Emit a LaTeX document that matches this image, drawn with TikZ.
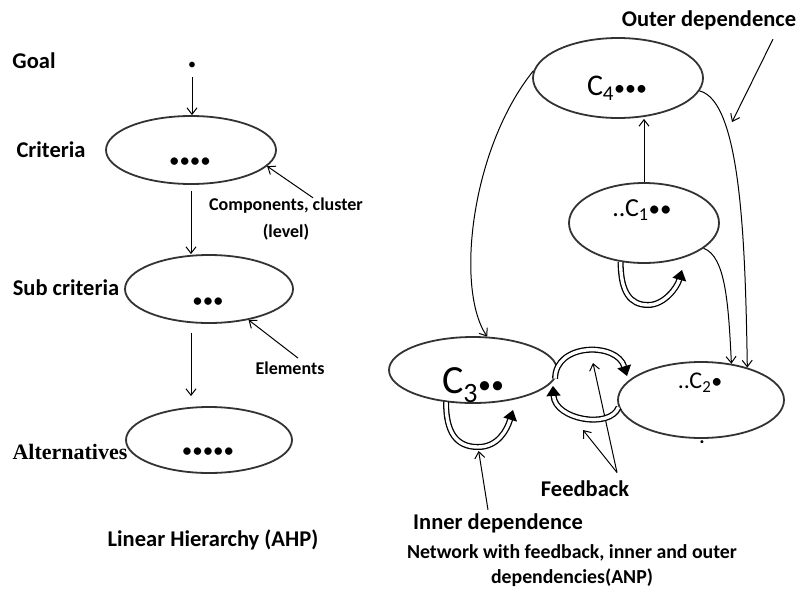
\documentclass[tikz,border=0pt]{standalone}
\usepackage{fontspec}
\setmainfont{Carlito}
\newfontfamily\altserif{Liberation Serif}
\usetikzlibrary{shapes.geometric, arrows.meta}
\tikzset{
    cluster/.style={draw=black!80, ellipse, line width=1.8pt, inner sep=0pt},
    lvl/.style={font=\fontsize{22.5}{26}\selectfont\bfseries},
    note/.style={font=\fontsize{18}{27}\selectfont\bfseries, align=center},
    dots/.style={inner sep=0pt, font=\fontsize{21}{21}\selectfont},
    cname/.style={inner sep=0pt},
    link/.style={-{Straight Barb[length=6.5pt,width=10pt]}, line width=1pt},
    hollow/.style={line width=1.3pt, double=white, double distance=3.4pt,
        -{Triangle[length=10pt,width=14pt]}} }
\newcommand{\blobs}[2]{{\fontsize{#1}{#1}\selectfont #2}}

\begin{document}
\begin{tikzpicture}[x=1pt, y=-1pt]
    \useasboundingbox (0,0) rectangle (798,592);
    % linear hierarchy
    \node[lvl] (goal) at (34,61) {Goal};
    \node[lvl] (critlbl) at (51,150) {Criteria};
    \node[lvl] (sublbl) at (66,288) {Sub criteria};
    \node[lvl, font=\fontsize{22}{24}\selectfont\altserif\bfseries] (altlbl) at (70,452) {Alternatives};
    \node[dots, font=\fontsize{16}{16}\selectfont] (goaldot) at (192,66) {•};
    \node[cluster, minimum width=170pt, minimum height=68pt] (crit) at (191,150) {};
    \node[cluster, minimum width=168pt, minimum height=68pt] (sub) at (209,289) {};
    \node[cluster, minimum width=166pt, minimum height=66pt] (alt) at (209,440) {};
    \node[dots] (critdots) at (190,163) {••••};
    \node[dots] (subdots) at (208,303) {•••};
    \node[dots] (altdots) at (208,453) {•••••};
    \node[note] (comp) at (286,219.5) {Components, cluster\\(level)};
    \node[note] (elem) at (290,368) {Elements};
    \node[lvl] (ahp) at (213,540) {Linear Hierarchy (AHP)};
    % ----
    \draw[link, shorten <=11pt] (goaldot.center) -- (goaldot.center |- crit.north);
    \draw[link, shorten <=6pt] (crit.south) -- (crit.south |- sub.north);
    \draw[link, shorten <=9pt, shorten >=10pt] (sub.south -| crit.south) -- (alt.north -| crit.south);
    \draw[link] ([xshift=27pt,yshift=-3pt]comp.north) -- (crit.-12);
    \draw[link] ([xshift=8pt]elem.north) -- (sub.-38);

    % network
    \node[cluster, minimum width=170pt, minimum height=80pt] (c4) at (618,78) {};
    \node[cluster, minimum width=150pt, minimum height=80pt] (c1) at (644,223) {};
    \node[cluster, minimum width=168pt, minimum height=66pt] (c3) at (473,370) {};
    \node[cluster, minimum width=166pt, minimum height=76pt] (c2) at (701,400) {};
    \node[cname, font=\fontsize{30}{30}\selectfont] (c4lbl) at (617,88) {C\textsubscript{4}\blobs{22}{•••}};
    \node[cname, font=\fontsize{26}{26}\selectfont] (c1lbl) at (642,210) {..C\textsubscript{1}\blobs{23}{••}};
    \node[cname, font=\fontsize{40}{40}\selectfont] (c3lbl) at (473,385) {C\textsubscript{3}\blobs{26}{••}};
    \node[cname, font=\fontsize{24}{24}\selectfont] (c2lbl) at (700,383) {..C\textsubscript{2}\blobs{22}{•}};
    \node[cname, font=\fontsize{20}{20}\selectfont\bfseries] (c2dot) at (702,442) {.};
    \node[lvl] (outer) at (709,20) {Outer dependence};
    \node[lvl] (fb) at (585,489) {Feedback};
    \node[lvl] (inner) at (498,523) {Inner dependence};
    \node[note, font=\fontsize{19.8}{25}\selectfont\bfseries] (anp) at (572,565.5) {Network with feedback, inner and outer\\dependencies(ANP)};
    \coordinate (outertip) at (732,122);
    \coordinate (fbtop) at (593,363);
    \coordinate (fbbot) at (583,430);
    \coordinate (c3bot) at (478,447);
    \coordinate (c3tip) at (513,410);
    \coordinate (c1bot) at (648,305);
    \coordinate (c1tip) at (682,270);
    % ----
    \draw[link] (c1.north) -- (c1.north |- c4.south);
    \draw[link] (c4.175) .. controls +(-63,78) and +(-32,-47) .. (c3.67);
    \draw[link] (c4.-9) .. controls +(42,10) and +(-2,-120) .. (c2.35);
    \draw[link] (c1.-23) .. controls +(22,8) and +(-3,-60) .. (c2.50);
    \draw[link] ([xshift=64pt,yshift=-6pt]outer.south) -- (outertip);
    \draw[link] ([xshift=32pt,yshift=5pt]fb.north) -- (fbtop);
    \draw[link] ([xshift=32pt,yshift=5pt]fb.north) -- (fbbot);
    \draw[link, shorten >=4pt] ([xshift=-10pt]inner.north) -- (c3bot);
    % loops
    \draw[hollow] (c3.-130) .. controls +(0,30) and +(-22,0) .. (c3bot) .. controls +(20,0) and +(-6,20) .. (c3tip);
    \draw[hollow] (c1.-121) .. controls +(0,30) and +(-18,0) .. (c1bot) .. controls +(16,0) and +(-5,18) .. (c1tip);
    \draw[hollow] (c3.-6) .. controls +(0,-36) and +(-10,-34) .. ([xshift=-8pt]c2.160);
    \draw[hollow] (c2.185) .. controls +(-8,22) and +(2,34) .. ([xshift=5pt]c3.-12);
\end{tikzpicture}
\end{document}
